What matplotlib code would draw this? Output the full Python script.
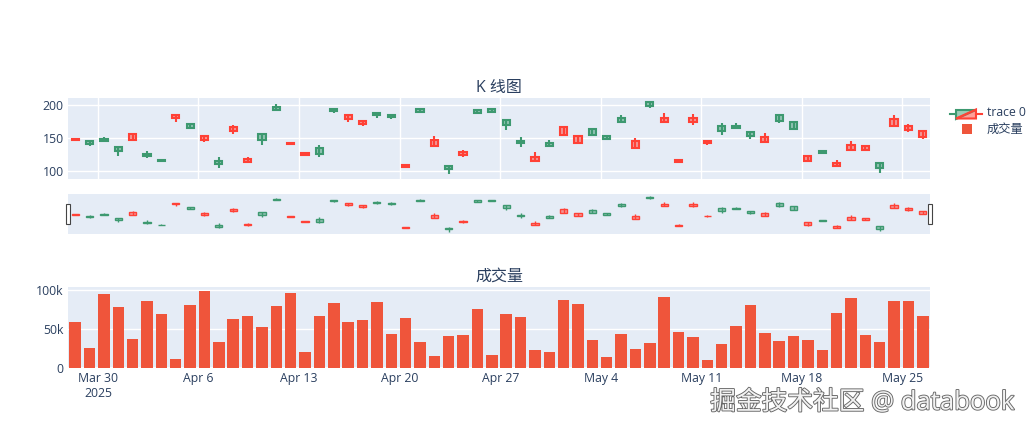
import numpy as np
import pandas as pd
import matplotlib
matplotlib.use("Agg")
import matplotlib.pyplot as plt
import matplotlib.dates as mdates
from matplotlib.patches import Rectangle, Polygon
import matplotlib.patheffects as pe

# data
dates = pd.date_range("2025-03-28 10:00", periods=60, freq="D")
opens = [149, 140.5, 146, 130, 156, 122.5, 115, 185, 165, 152.5,
         110, 166, 118, 147, 193, 143, 127.5, 126, 190.5, 185,
         176.5, 185, 181.5, 108.5, 190, 147.5, 102.5, 129, 187.5, 190,
         169, 142.5, 122, 137.5, 166, 152.5, 154, 148, 175, 145,
         198, 181, 117, 181, 145, 160, 165.5, 153, 151.5, 176,
         163.5, 123.5, 127, 112, 140, 137.5, 104, 179, 167.5, 160]
highs = [149.5, 147.5, 151.5, 137.5, 158, 130, 118.5, 185.5, 173, 155,
         121.5, 169, 121.5, 157, 201, 143.5, 128, 139, 194, 185.5,
         177, 189, 187, 110, 196, 153.5, 108, 132.5, 192.5, 194.5,
         177.5, 151.5, 129, 147, 167.5, 153, 164, 153, 185, 150,
         205.5, 187.5, 117.5, 186, 145.5, 172.5, 172.5, 159.5, 157.5, 187,
         174.5, 125, 131, 117, 146, 138, 113.5, 185, 171, 160.5]
lows = [145.5, 138.5, 145.5, 123.5, 146, 120, 114, 174, 164.5, 143.5,
        105, 156, 111.5, 139, 192, 140, 124, 121.5, 187.5, 174,
        167.5, 181, 179, 105, 189.5, 138, 95, 121.5, 187, 189.5,
        162, 136.5, 115, 137, 153.5, 142, 153.5, 147.5, 172, 134.5,
        196, 174.5, 113, 170, 140, 154, 165, 148.5, 143, 172,
        163, 113, 126.5, 107, 130, 131, 97.5, 167, 159, 149]
closes = [147, 145, 148.5, 136, 147, 126, 117, 180, 171, 147,
          116, 160, 114, 156, 197, 140.5, 124.5, 135, 193.5, 179,
          170.5, 188.5, 185, 105.5, 194, 138.5, 107.5, 124, 192, 194,
          177, 146, 115.5, 142, 154, 142.5, 163.5, 152.5, 181, 135,
          204, 175, 113.5, 174, 143, 167.5, 168.5, 159, 143.5, 185,
          174, 115, 130, 107.5, 132.5, 131.5, 111.5, 167.5, 162, 151]
volume = [58.4, 24.9, 94.8, 78.1, 36.5, 85.4, 69.1, 10.7, 80.7, 98.7,
          32.6, 62.7, 67.0, 52.8, 79.8, 96.6, 19.7, 66.5, 83.3, 58.4,
          60.9, 84.1, 43.3, 63.5, 33.0, 15.0, 40.3, 42.0, 75.1, 16.8,
          68.7, 65.2, 22.3, 19.7, 86.7, 81.5, 35.6, 13.7, 43.8, 24.5,
          32.2, 91.0, 45.5, 39.5, 9.9, 30.5, 53.2, 80.3, 44.6, 34.3,
          40.8, 35.6, 22.7, 70.4, 90.1, 42.0, 33.0, 85.4, 85.4, 66.5]
tick_days = pd.date_range("2025-03-30", periods=9, freq="7D")
tick_labels = ["Mar 30\n2025", "Apr 6", "Apr 13", "Apr 20", "Apr 27",
               "May 4", "May 11", "May 18", "May 25"]

W, H = 1032, 432
UP = "#3D9970"
DOWN = "#FF4136"
BAR = "#EF553B"
BG = "#E5ECF6"
TXT = "#2a3f5f"
FONT = ["Open Sans", "Noto Sans CJK SC", "DejaVu Sans"]
plt.rcParams["font.family"] = FONT


def box(x0, y0, x1, y1):
    # pixel box (top-left origin) -> figure fraction rect
    return [x0 / W, 1 - y1 / H, (x1 - x0) / W, (y1 - y0) / H]


fig = plt.figure(figsize=(W / 100, H / 100), dpi=100)
ax1 = fig.add_axes(box(68, 97.7, 930, 178.7))
ax_rs = fig.add_axes(box(68, 194.3, 930, 233.7))
ax2 = fig.add_axes(box(68, 287.3, 930, 367.7))

x = mdates.date2num(dates)
xt = mdates.date2num(tick_days)
xlim = (x[0] - 0.5, x[-1] + 0.5)


def candles(ax, lw, wd):
    for xi, o, h, l, c in zip(x, opens, highs, lows, closes):
        col = UP if c >= o else DOWN
        ax.vlines(xi, l, h, color=col, lw=lw, zorder=3)
        ax.add_patch(Rectangle((xi - wd / 2, min(o, c)), wd, abs(c - o),
                               facecolor=matplotlib.colors.to_rgba(col, 0.5),
                               edgecolor=col, lw=lw, zorder=4))


for ax in (ax1, ax_rs, ax2):
    ax.set_facecolor(BG)
    for s in ax.spines.values():
        s.set_visible(False)
    ax.set_xlim(*xlim)

candles(ax1, 1.5, 0.5)
ax1.set_ylim(88.5, 211)
ax1.set_yticks([100, 150, 200])
ax1.set_xticks(xt)
ax1.set_xticklabels([])
ax1.grid(True, color="white", lw=1)
ax1.set_axisbelow(True)
ax1.tick_params(length=0, labelsize=8.8, labelcolor=TXT, pad=3)

candles(ax_rs, 1.0, 0.5)
ax_rs.set_ylim(88.5, 211)
ax_rs.set_xticks([])
ax_rs.set_yticks([])

ax2.bar(x, volume, width=0.8, color=BAR, zorder=3)
ax2.set_ylim(0, 103.6)
ax2.set_yticks([0, 50, 100])
ax2.set_yticklabels(["0", "50k", "100k"])
ax2.set_xticks(xt)
ax2.set_xticklabels(tick_labels)
ax2.grid(True, axis="y", color="white", lw=1)
ax2.axhline(0, color="white", lw=2, zorder=2)
ax2.set_axisbelow(True)
ax2.tick_params(length=0, labelsize=8.8, labelcolor=TXT, pad=3)

# range slider handles
for hx in (66, 928):
    fig.add_artist(Rectangle((hx / W, 1 - 224.3 / H), 4 / W, 20 / H,
                             transform=fig.transFigure, facecolor="white",
                             edgecolor="#444444", lw=0.8))

# subplot titles
fig.text(499 / W, 1 - 88 / H, "K 线图", ha="center", va="center",
         fontsize=11.5, color=TXT)
fig.text(499 / W, 1 - 277 / H, "成交量", ha="center", va="center",
         fontsize=11.5, color=TXT)

# legend
tf = fig.transFigure
fig.add_artist(plt.Line2D([950 / W, 956 / W], [1 - 114 / H] * 2, color=UP,
                          lw=1.5, transform=tf))
fig.add_artist(plt.Line2D([976 / W, 982 / W], [1 - 114 / H] * 2, color=DOWN,
                          lw=1.5, transform=tf))
p = lambda px, py: (px / W, 1 - py / H)
fig.add_artist(Polygon([p(956, 118.5), p(956, 109.5), p(976, 109.5)],
                       closed=True, transform=tf,
                       facecolor=matplotlib.colors.to_rgba(UP, 0.5),
                       edgecolor=UP, lw=1.5))
fig.add_artist(Polygon([p(956, 118.5), p(976, 109.5), p(976, 118.5)],
                       closed=True, transform=tf,
                       facecolor=matplotlib.colors.to_rgba(DOWN, 0.5),
                       edgecolor=DOWN, lw=1.5))
fig.text(987 / W, 1 - 112.5 / H, "trace 0", ha="left", va="center",
         fontsize=8.8, color=TXT)
fig.add_artist(Rectangle((962 / W, 1 - 133.5 / H), 10 / W, 10 / H,
                         transform=tf, facecolor=BAR, edgecolor="none"))
fig.text(987 / W, 1 - 129.5 / H, "成交量", ha="left", va="center",
         fontsize=8.8, color=TXT)

# watermark
fig.text(1015 / W, 1 - 403 / H, "掘金技术社区 @ databook", ha="right",
         va="center", fontsize=18.5, color="#f2f2f2",
         path_effects=[pe.Stroke(linewidth=1.3, foreground="#666666"),
                       pe.Normal()])

fig.savefig("out.png", dpi=100)
